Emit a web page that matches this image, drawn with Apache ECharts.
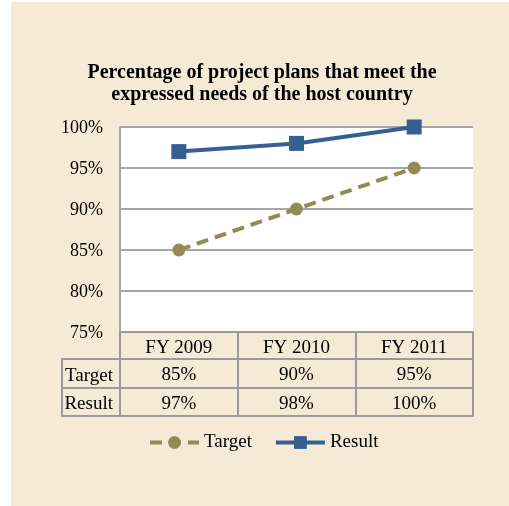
<!DOCTYPE html>
<html>
<head>
<meta charset="utf-8">
<script src="https://cdn.jsdelivr.net/npm/echarts@6/dist/echarts.min.js"></script>
<style>
  html, body { margin: 0; padding: 0; background: #fff; }
  #panel { position: absolute; left: 11px; top: 2px; width: 498px; height: 504px; background: #f5ead6; }
  #chart { position: absolute; left: 0; top: 0; width: 509px; height: 506px; }
</style>
</head>
<body>
<div id="panel"></div>
<div id="chart"></div>
<script>
// chart data
var years = ['FY 2009', 'FY 2010', 'FY 2011'];
var target = [85, 90, 95];
var result = [97, 98, 100];
var rows = ['Target', 'Result'];
var yTicks = { min: 75, max: 100, step: 5 };

var FONT = 'Liberation Serif';
var GRID_GREY = '#a6a6a6';
var TABLE_GREY = '#9a9a9a';

// cells of the data table: [column, row, value]
var cells = [];
years.forEach(function (y, i) {
    cells.push([i, 'Target', target[i]]);
    cells.push([i, 'Result', result[i]]);
});

var myChart = echarts.init(document.getElementById('chart'), null, { renderer: 'canvas' });

var option = {
    backgroundColor: 'transparent',
    textStyle: { fontFamily: FONT },
    title: {
        text: 'Percentage of project plans that meet the\nexpressed needs of the host country',
        left: 257,
        top: 57,
        textAlign: 'center',
        textStyle: { fontFamily: FONT, fontSize: 20, fontWeight: 'bold', lineHeight: 22, color: '#000' }
    },
    legend: {
        left: 143,
        top: 428,
        itemWidth: 49,
        itemHeight: 16,
        itemGap: 22,
        lineStyle: { width: 4 },
        textStyle: { fontFamily: FONT, fontSize: 19, color: '#000' },
        data: ['Target', 'Result']
    },
    grid: [
        { left: 120, top: 127, width: 353, height: 205, show: true, backgroundColor: '#fff', borderWidth: 0 },
        { left: 120, top: 359, width: 353, height: 57, show: false }
    ],
    xAxis: [
        {
            gridIndex: 0,
            type: 'category',
            data: years,
            boundaryGap: true,
            axisLine: { lineStyle: { color: TABLE_GREY, width: 2 } },
            axisTick: { show: true, interval: 0, length: 27, lineStyle: { color: TABLE_GREY, width: 2 } },
            axisLabel: { margin: 7, fontSize: 19, fontFamily: FONT, color: '#000' },
            splitLine: { show: false }
        },
        {
            gridIndex: 1,
            type: 'category',
            data: years,
            boundaryGap: true,
            axisLine: { lineStyle: { color: TABLE_GREY, width: 2 } },
            axisTick: { show: false },
            axisLabel: { show: false },
            splitLine: { show: true, interval: 0, lineStyle: { color: TABLE_GREY, width: 2 } }
        }
    ],
    yAxis: [
        {
            gridIndex: 0,
            type: 'value',
            min: yTicks.min,
            max: yTicks.max,
            interval: yTicks.step,
            axisLine: { show: true, lineStyle: { color: GRID_GREY, width: 2 } },
            axisTick: { show: false },
            axisLabel: {
                margin: 17, color: '#000',
                formatter: function (v) { return '{t|' + v + '%}'; },
                rich: { t: { fontSize: 18, fontFamily: FONT, color: '#000', padding: [3, 0, 0, 0] } }
            },
            splitLine: { show: true, lineStyle: { color: GRID_GREY, width: 2 } }
        },
        {
            gridIndex: 1,
            type: 'category',
            data: rows,
            inverse: true,
            boundaryGap: true,
            axisLine: { show: true, lineStyle: { color: TABLE_GREY, width: 2 } },
            axisTick: { show: true, interval: 0, length: 58, lineStyle: { color: TABLE_GREY, width: 2 } },
            axisLabel: {
                margin: 7, color: '#000',
                formatter: function (v) { return '{t|' + v + '}'; },
                rich: { t: { fontSize: 19, fontFamily: FONT, color: '#000', padding: [5, 0, 0, 0] } }
            },
            splitLine: { show: true, interval: 0, lineStyle: { color: TABLE_GREY, width: 2 } }
        },
        {
            // left edge of the row-label column
            gridIndex: 1,
            type: 'category',
            data: rows,
            inverse: true,
            position: 'left',
            offset: 58,
            axisLine: { show: true, lineStyle: { color: TABLE_GREY, width: 2 } },
            axisTick: { show: false },
            axisLabel: { show: false },
            splitLine: { show: false }
        }
    ],
    series: [
        {
            name: 'Target',
            type: 'line',
            xAxisIndex: 0,
            yAxisIndex: 0,
            data: target,
            color: '#948a54',
            symbol: 'circle',
            symbolSize: 13,
            lineStyle: { width: 4, type: [12, 7] },
            z: 3
        },
        {
            name: 'Result',
            type: 'line',
            xAxisIndex: 0,
            yAxisIndex: 0,
            data: result,
            color: '#376092',
            symbol: 'rect',
            symbolSize: 15,
            lineStyle: { width: 4 },
            z: 4
        },
        {
            name: 'table',
            type: 'custom',
            xAxisIndex: 1,
            yAxisIndex: 1,
            data: cells,
            encode: { x: 0, y: 1 },
            silent: true,
            renderItem: function (params, api) {
                var p = api.coord([api.value(0), api.value(1)]);
                return {
                    type: 'text',
                    x: p[0],
                    y: p[1] + 2,
                    style: {
                        text: api.value(2) + '%',
                        align: 'center',
                        verticalAlign: 'middle',
                        fontSize: 19,
                        fontFamily: FONT,
                        fill: '#000'
                    }
                };
            }
        }
    ]
};

myChart.setOption(option);
</script>
</body>
</html>
